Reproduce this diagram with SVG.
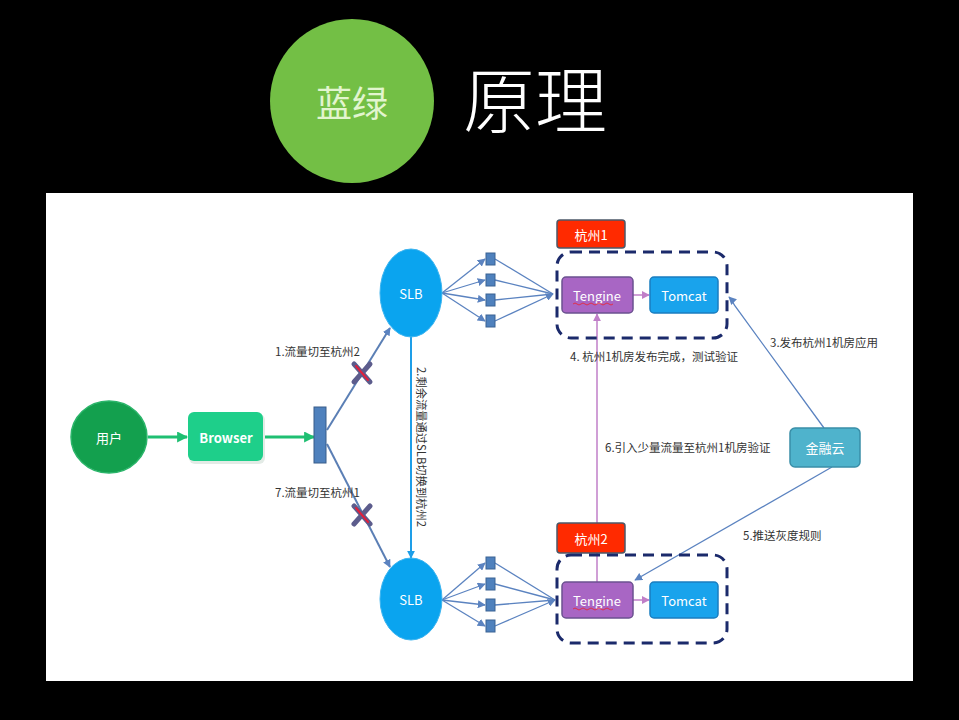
<svg xmlns="http://www.w3.org/2000/svg" width="959" height="720" viewBox="0 0 959 720">
<defs>
<style>
.cn{font-family:"Noto Sans CJK SC","Liberation Sans",sans-serif}
.lbl{font-family:"Noto Sans CJK SC","Liberation Sans",sans-serif;font-size:11.5px;fill:#333}
.wt{fill:#fff;font-family:"Noto Sans CJK SC","Liberation Sans",sans-serif;font-size:13px;text-anchor:middle;dominant-baseline:central}
.bl{fill:none;stroke:#5b83c0;stroke-width:1.3}
.sq{fill:#4f81bd;stroke:#3a6394;stroke-width:1}
.dash{fill:none;stroke:#1b2a6b;stroke-width:3;stroke-dasharray:11 7}
.tag{fill:#ff2a00;stroke:#4c5868;stroke-width:1.5}
.teng{fill:#a866c4;stroke:#6b5290;stroke-width:1.5}
.tom{fill:#19a3ec;stroke:#1a7ec0;stroke-width:1.5}
</style>
<marker id="ab" viewBox="0 0 10 10" refX="9" refY="5" markerWidth="8" markerHeight="8" markerUnits="userSpaceOnUse" orient="auto"><path d="M0,0 L10,5 L0,10 z" fill="#5b83c0"/></marker>
<marker id="ag" viewBox="0 0 10 10" refX="9" refY="5" markerWidth="11" markerHeight="11" markerUnits="userSpaceOnUse" orient="auto"><path d="M0,0 L10,5 L0,10 z" fill="#1fbf72"/></marker>
<marker id="ap" viewBox="0 0 10 10" refX="9" refY="5" markerWidth="8" markerHeight="8" markerUnits="userSpaceOnUse" orient="auto"><path d="M0,0 L10,5 L0,10 z" fill="#c07fc8"/></marker>
<marker id="ac" viewBox="0 0 10 10" refX="9" refY="5" markerWidth="8" markerHeight="8" markerUnits="userSpaceOnUse" orient="auto"><path d="M0,0 L10,5 L0,10 z" fill="#1e9ee8"/></marker>
</defs>
<rect x="0" y="0" width="959" height="720" fill="#000"/>
<g id="title">
<circle cx="352" cy="101" r="82" fill="#73bf45"/>
<text x="352" y="101" class="cn" font-size="36" fill="#e2f5cf" text-anchor="middle" dominant-baseline="central">蓝绿</text>
<text x="463" y="127" class="cn" font-size="72" fill="#fff" font-weight="300">原理</text>
</g>
<rect x="46" y="193" width="867" height="488" fill="#fff"/>
<g id="connectors">
<line x1="148" y1="437" x2="187" y2="437" stroke="#1fbf72" stroke-width="3" marker-end="url(#ag)"/>
<line x1="264" y1="437" x2="314" y2="437" stroke="#1fbf72" stroke-width="3" marker-end="url(#ag)"/>
<line x1="327" y1="430" x2="390" y2="328" stroke="#5b7fb5" stroke-width="2" marker-end="url(#ab)"/>
<line x1="327" y1="444" x2="390" y2="567" stroke="#5b7fb5" stroke-width="2" marker-end="url(#ab)"/>
<g stroke-linecap="round">
<line x1="354" y1="364" x2="370" y2="382" stroke="#5c5c8c" stroke-width="5"/>
<line x1="370" y1="364" x2="354" y2="382" stroke="#5c5c8c" stroke-width="5"/>
<line x1="356" y1="366" x2="368" y2="380" stroke="#e0203c" stroke-width="2"/>
<line x1="354" y1="506" x2="370" y2="524" stroke="#5c5c8c" stroke-width="5"/>
<line x1="370" y1="506" x2="354" y2="524" stroke="#5c5c8c" stroke-width="5"/>
<line x1="356" y1="508" x2="368" y2="522" stroke="#e0203c" stroke-width="2"/>
</g>
<line x1="411" y1="337" x2="411" y2="558" stroke="#1e9ee8" stroke-width="2" marker-end="url(#ac)"/>
<line class="bl" x1="442" y1="293" x2="485" y2="259" marker-end="url(#ab)"/>
<line class="bl" x1="442" y1="293" x2="485" y2="280" marker-end="url(#ab)"/>
<line class="bl" x1="442" y1="293" x2="485" y2="300" marker-end="url(#ab)"/>
<line class="bl" x1="442" y1="293" x2="485" y2="321" marker-end="url(#ab)"/>
<line class="bl" x1="495" y1="259" x2="553" y2="294"/>
<line class="bl" x1="495" y1="280" x2="553" y2="294"/>
<line class="bl" x1="495" y1="300" x2="553" y2="294"/>
<line class="bl" x1="495" y1="321" x2="553" y2="294" marker-end="url(#ab)"/>
<line class="bl" x1="442" y1="600" x2="485" y2="563" marker-end="url(#ab)"/>
<line class="bl" x1="442" y1="600" x2="485" y2="584" marker-end="url(#ab)"/>
<line class="bl" x1="442" y1="600" x2="485" y2="605" marker-end="url(#ab)"/>
<line class="bl" x1="442" y1="600" x2="485" y2="626" marker-end="url(#ab)"/>
<line class="bl" x1="495" y1="563" x2="555" y2="600"/>
<line class="bl" x1="495" y1="584" x2="555" y2="600"/>
<line class="bl" x1="495" y1="605" x2="555" y2="600"/>
<line class="bl" x1="495" y1="626" x2="555" y2="600" marker-end="url(#ab)"/>
<line x1="633" y1="295" x2="649" y2="295" stroke="#c07fc8" stroke-width="1.5" marker-end="url(#ap)"/>
<line x1="633" y1="600" x2="649" y2="600" stroke="#c07fc8" stroke-width="1.5" marker-end="url(#ap)"/>
<line x1="597" y1="582" x2="597" y2="314" stroke="#c07fc8" stroke-width="1.5" marker-end="url(#ap)"/>
<path class="bl" d="M824,428 L735,306 Q731,299 729,297" marker-end="url(#ab)"/>
<line class="bl" x1="832" y1="467" x2="635" y2="580" marker-end="url(#ab)"/>
</g>
<g id="user"><ellipse cx="109" cy="437" rx="38" ry="36" fill="#13a04e" stroke="#2bb56a" stroke-width="1.5"/><text x="109" y="437" class="wt">用户</text></g>
<g id="browser"><rect x="189" y="414" width="76" height="50" rx="6" fill="#e3ebe6"/><rect x="188" y="412" width="75" height="49" rx="6" fill="#1ecf8a"/><text x="226" y="437" class="wt" font-weight="bold" font-size="12.5">Browser</text></g>
<g id="bar"><rect x="314" y="407" width="12" height="56" fill="#4f81bd" stroke="#385d8a" stroke-width="1"/></g>
<g id="slb1"><ellipse cx="411" cy="293" rx="31" ry="44" fill="#0aa4ef" stroke="#3cb4f0" stroke-width="1"/><text x="411" y="293" class="wt" font-size="12">SLB</text></g>
<g id="slb2"><ellipse cx="411" cy="599" rx="31" ry="41" fill="#0aa4ef" stroke="#3cb4f0" stroke-width="1"/><text x="411" y="599" class="wt" font-size="12">SLB</text></g>
<g id="sq1"><rect class="sq" x="486" y="253" width="9" height="12"/><rect class="sq" x="486" y="274" width="9" height="12"/><rect class="sq" x="486" y="294" width="9" height="12"/><rect class="sq" x="486" y="315" width="9" height="12"/></g>
<g id="sq2"><rect class="sq" x="486" y="557" width="9" height="12"/><rect class="sq" x="486" y="578" width="9" height="12"/><rect class="sq" x="486" y="599" width="9" height="12"/><rect class="sq" x="486" y="620" width="9" height="12"/></g>
<g id="hz1">
<rect class="tag" x="557" y="220" width="68" height="28" rx="3"/><text x="591" y="234" class="wt" font-size="12.5">杭州1</text>
<rect class="dash" x="557" y="252" width="170" height="86" rx="14"/>
<rect class="teng" x="562" y="277" width="71" height="36" rx="4"/><text x="597" y="295" class="wt" font-size="12.5">Tengine</text>
<path d="M573,304 q2,-2 4,0 t4,0 t4,0 t4,0 t4,0 t4,0 t4,0 t4,0 t4,0 t4,0" fill="none" stroke="#e0304a" stroke-width="1"/>
<rect class="tom" x="650" y="277" width="68" height="36" rx="4"/><text x="684" y="295" class="wt" font-size="13">Tomcat</text>
</g>
<g id="hz2">
<rect class="tag" x="557" y="523" width="68" height="30" rx="3"/><text x="591" y="538" class="wt" font-size="12.5">杭州2</text>
<rect class="dash" x="557" y="555" width="170" height="88" rx="14"/>
<rect class="teng" x="562" y="582" width="71" height="36" rx="4"/><text x="597" y="600" class="wt" font-size="12.5">Tengine</text>
<path d="M573,609 q2,-2 4,0 t4,0 t4,0 t4,0 t4,0 t4,0 t4,0 t4,0 t4,0 t4,0" fill="none" stroke="#e0304a" stroke-width="1"/>
<rect class="tom" x="650" y="582" width="68" height="36" rx="4"/><text x="684" y="600" class="wt" font-size="13">Tomcat</text>
</g>
<g id="jry"><rect x="790" y="428" width="70" height="39" rx="5" fill="#4fb3cc" stroke="#3a8fa8" stroke-width="1.5"/><text x="825" y="447" class="wt" font-size="13" fill="#e6f6fa">金融云</text></g>
<g id="labels">
<text x="275" y="356" class="lbl">1.流量切至杭州2</text>
<text x="275" y="497" class="lbl">7.流量切至杭州1</text>
<text x="414" y="447" class="lbl" font-size="11" text-anchor="middle" transform="rotate(90 414 447)" dominant-baseline="text-after-edge" textLength="160" lengthAdjust="spacingAndGlyphs">2.剩余流量通过SLB切换到杭州2</text>
<text x="570" y="361" class="lbl">4. 杭州1机房发布完成，测试验证</text>
<text x="770" y="347" class="lbl">3.发布杭州1机房应用</text>
<text x="605" y="452" class="lbl">6.引入少量流量至杭州1机房验证</text>
<text x="743" y="540" class="lbl" font-size="11">5.推送灰度规则</text>
</g>
</svg>
